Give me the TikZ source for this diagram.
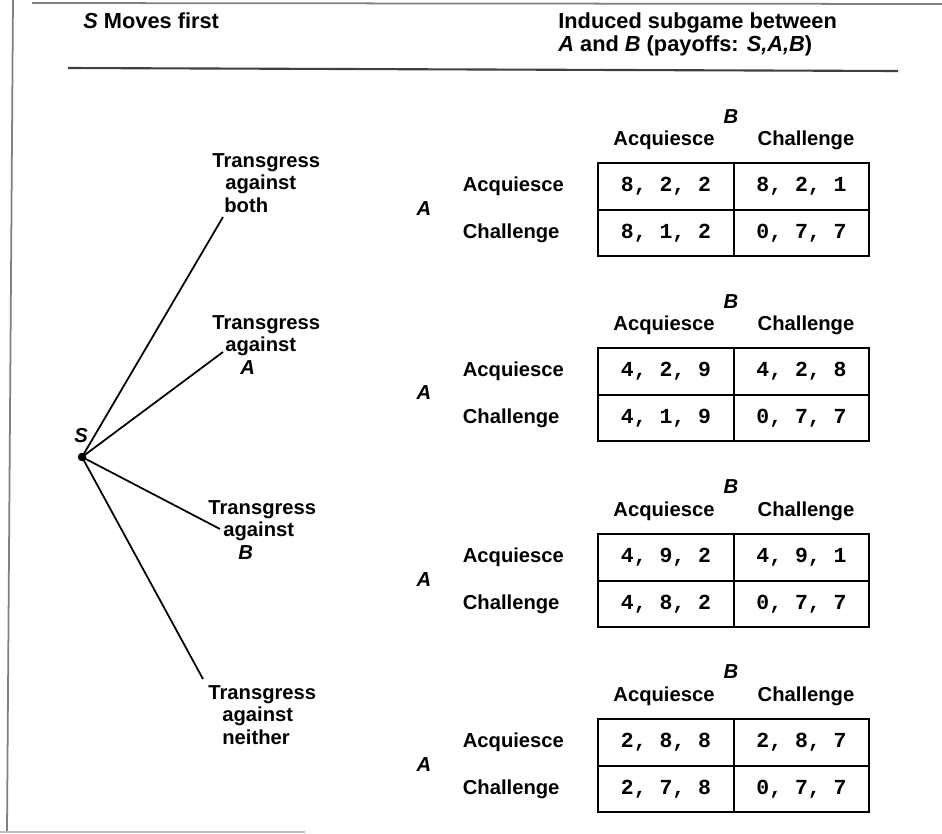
\documentclass[tikz,border=0pt]{standalone}
\usepackage{fontspec}
\setmainfont{Liberation Sans}
\setmonofont{Liberation Mono}
\usepackage{tikz}
\tikzstyle{txt} = [font=\bfseries\fontsize{11.5}{12.75}\selectfont, inner sep=0pt, align=left]
\tikzstyle{head} = [font=\bfseries\fontsize{12.4}{13}\selectfont, inner sep=0pt, align=left]
\tikzstyle{cell} = [rectangle, draw, line width=1pt, minimum width=2.71cm, minimum height=0.93cm, inner sep=0pt, font=\ttfamily\bfseries\fontsize{12.2}{12}\selectfont]
\tikzstyle{branch} = [draw, line width=1pt]
\tikzstyle{frame} = [draw, line width=1pt, gray]

\begin{document}
\begin{tikzpicture}
\useasboundingbox (0, 0) rectangle (18.84, -16.68);

% frame, header
\path [frame] (0.64, -0.06) -- (18.84, -0.08);
\path [frame] (0.26, 0) -- (0.14, -16.64);
\path [frame, gray!50] (0, -16.64) -- (6.1, -16.64);
\path [draw, line width=1.2pt, black!75] (1.36, -1.36) -- (17.96, -1.42);

\node [head, anchor=west] at (1.66, -0.42) (title) {\textit{S} Moves first};
\node [head, anchor=west] at (11.16, -0.68) (subtitle) {Induced subgame between\\\textit{A} and \textit{B} (payoffs: \textit{S,A,B})};

% tree
\node [circle, fill, inner sep=0pt, minimum size=0.17cm] at (1.64, -9.14) (S) {};
\node [txt] at (1.62, -8.72) (Slbl) {\textit{S}};

\coordinate (eboth) at (4.46, -4.34);
\coordinate (eA) at (4.46, -7.04);
\coordinate (eB) at (4.40, -10.58);
\coordinate (enone) at (4.06, -13.58);

\node [txt, anchor=west] at (4.24, -3.66) (mboth) {Transgress\\\hspace*{0.26cm}against\\\hspace*{0.24cm}both};
\node [txt, anchor=west] at (4.24, -6.90) (mA) {Transgress\\\hspace*{0.26cm}against\\\hspace*{0.56cm}\textit{A}};
\node [txt, anchor=west] at (4.16, -10.60) (mB) {Transgress\\\hspace*{0.30cm}against\\\hspace*{0.60cm}\textit{B}};
\node [txt, anchor=west] at (4.16, -14.30) (mnone) {Transgress\\\hspace*{0.28cm}against\\\hspace*{0.28cm}neither};

\path [branch] (S.center) -- (eboth);
\path [branch] (S.center) -- (eA);
\path [branch] (S.center) -- (eB);
\path [branch] (S.center) -- (enone);

% subgame: transgress against both
\node [txt] at (14.62, -2.34) (t1b) {\textit{B}};
\node [txt] at (13.28, -2.80) (t1ha) {Acquiesce};
\node [txt] at (16.12, -2.80) (t1hc) {Challenge};
\node [txt] at (8.48, -4.18) (t1a) {\textit{A}};
\node [txt, anchor=west] at (9.25, -3.73) (t1ra) {Acquiesce};
\node [txt, anchor=west] at (9.25, -4.66) (t1rc) {Challenge};
\node [cell] at (13.32, -3.73) (t1aa) {8, 2, 2};
\node [cell] at (16.03, -3.73) (t1ac) {8, 2, 1};
\node [cell] at (13.32, -4.66) (t1ca) {8, 1, 2};
\node [cell] at (16.03, -4.66) (t1cc) {0, 7, 7};

% subgame: transgress against A
\node [txt] at (14.62, -6.04) (t2b) {\textit{B}};
\node [txt] at (13.28, -6.50) (t2ha) {Acquiesce};
\node [txt] at (16.12, -6.50) (t2hc) {Challenge};
\node [txt] at (8.48, -7.86) (t2a) {\textit{A}};
\node [txt, anchor=west] at (9.25, -7.43) (t2ra) {Acquiesce};
\node [txt, anchor=west] at (9.25, -8.36) (t2rc) {Challenge};
\node [cell] at (13.32, -7.43) (t2aa) {4, 2, 9};
\node [cell] at (16.03, -7.43) (t2ac) {4, 2, 8};
\node [cell] at (13.32, -8.36) (t2ca) {4, 1, 9};
\node [cell] at (16.03, -8.36) (t2cc) {0, 7, 7};

% subgame: transgress against B
\node [txt] at (14.62, -9.74) (t3b) {\textit{B}};
\node [txt] at (13.28, -10.22) (t3ha) {Acquiesce};
\node [txt] at (16.12, -10.22) (t3hc) {Challenge};
\node [txt] at (8.48, -11.60) (t3a) {\textit{A}};
\node [txt, anchor=west] at (9.25, -11.15) (t3ra) {Acquiesce};
\node [txt, anchor=west] at (9.25, -12.08) (t3rc) {Challenge};
\node [cell] at (13.32, -11.15) (t3aa) {4, 9, 2};
\node [cell] at (16.03, -11.15) (t3ac) {4, 9, 1};
\node [cell] at (13.32, -12.08) (t3ca) {4, 8, 2};
\node [cell] at (16.03, -12.08) (t3cc) {0, 7, 7};

% subgame: transgress against neither
\node [txt] at (14.62, -13.44) (t4b) {\textit{B}};
\node [txt] at (13.28, -13.92) (t4ha) {Acquiesce};
\node [txt] at (16.12, -13.92) (t4hc) {Challenge};
\node [txt] at (8.48, -15.30) (t4a) {\textit{A}};
\node [txt, anchor=west] at (9.25, -14.85) (t4ra) {Acquiesce};
\node [txt, anchor=west] at (9.25, -15.78) (t4rc) {Challenge};
\node [cell] at (13.32, -14.85) (t4aa) {2, 8, 8};
\node [cell] at (16.03, -14.85) (t4ac) {2, 8, 7};
\node [cell] at (13.32, -15.78) (t4ca) {2, 7, 8};
\node [cell] at (16.03, -15.78) (t4cc) {0, 7, 7};

\end{tikzpicture}
\end{document}
